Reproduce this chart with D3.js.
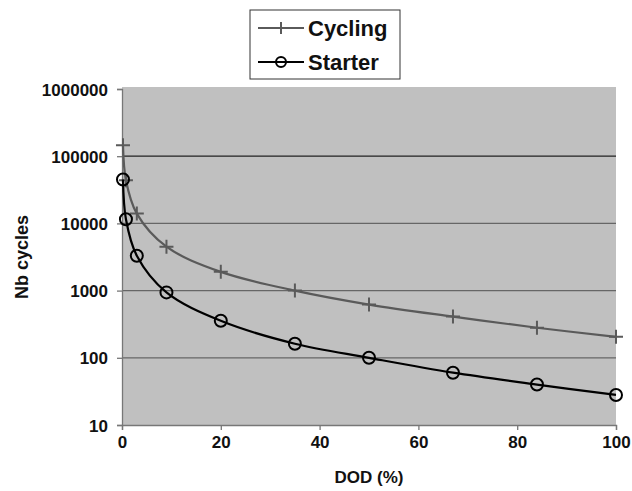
<!DOCTYPE html>
<html>
<head>
<meta charset="utf-8">
<script src="https://cdn.jsdelivr.net/npm/d3@7"></script>
<style>
  body { margin: 0; background: #fff; }
  text { font-family: "Liberation Sans", Arial, sans-serif; font-weight: bold; }
</style>
</head>
<body>
<svg></svg>
<script>
// values
const dod = [0.2, 0.8, 3, 9, 20, 35, 50, 67, 84, 100];
const cycling = [145000, 44000, 14000, 4500, 1900, 1000, 620, 410, 280, 205];
const starter = [45000, 11500, 3300, 940, 355, 162, 100, 60, 40, 28];
const xTicks = [0, 20, 40, 60, 80, 100];
const yTicks = [10, 100, 1000, 10000, 100000, 1000000];

const svg = d3.select("svg").attr("width", 632).attr("height", 491);

const margin = { top: 89, right: 16, bottom: 66, left: 122 };
const width = 632;
const height = 491;

const x = d3.scaleLinear().domain([0, 100]).range([margin.left, width - margin.right]);
const y = d3.scaleLog().domain([10, 1000000]).range([height - margin.bottom, margin.top]);

// plot background
svg.append("rect")
  .attr("x", x(0)).attr("y", y(1000000) - 2)
  .attr("width", x(100) - x(0)).attr("height", y(10) - y(1000000) + 2)
  .attr("fill", "#c0c0c0");

// gridlines
svg.append("g")
  .selectAll("line")
  .data(yTicks.slice(1, -1))
  .join("line")
  .attr("x1", x(0)).attr("x2", x(100))
  .attr("y1", (d) => y(d)).attr("y2", (d) => y(d))
  .attr("stroke", (d) => (d === 100000 ? "#222" : "#666"))
  .attr("stroke-width", 1.3);

// axes
const xAxis = svg.append("g")
  .attr("transform", `translate(0, ${y(10)})`)
  .call(d3.axisBottom(x).tickValues(xTicks).tickSize(5).tickPadding(6).tickFormat(d3.format("d")));

const yAxis = svg.append("g")
  .attr("transform", `translate(${x(0)}, 0)`)
  .call(d3.axisLeft(y).tickValues(yTicks).tickSize(5).tickPadding(9).tickFormat(d3.format("d")));

[xAxis, yAxis].forEach((g) => {
  g.select(".domain").attr("stroke", "#777").attr("stroke-width", 1.3);
  g.selectAll(".tick line").attr("stroke", "#777").attr("stroke-width", 1.3);
  g.selectAll(".tick text")
    .attr("font-size", "17px")
    .attr("font-family", "Liberation Sans, Arial, sans-serif")
    .attr("font-weight", "bold")
    .attr("fill", "#111");
});
yAxis.selectAll(".tick text").attr("dy", "0.36em");

// axis titles
svg.append("text")
  .attr("x", (x(0) + x(100)) / 2)
  .attr("y", 483)
  .attr("text-anchor", "middle")
  .attr("font-size", "17px")
  .attr("fill", "#111")
  .text("DOD (%)");

svg.append("text")
  .attr("transform", `translate(28, ${(y(10) + y(1000000)) / 2}) rotate(-90)`)
  .attr("text-anchor", "middle")
  .attr("font-size", "18px")
  .attr("fill", "#111")
  .text("Nb cycles");

// series
const series = [
  { name: "Cycling", values: cycling, color: "#5a5a5a", marker: "plus" },
  { name: "Starter", values: starter, color: "#000", marker: "circle" },
];

const line = d3.line()
  .x((d) => x(d[0]))
  .y((d) => y(d[1]))
  .curve(d3.curveCatmullRom.alpha(0.5));

function drawMarker(g, type, color, size = 7) {
  if (type === "plus") {
    g.append("path")
      .attr("d", `M-${size},0H${size}M0,-${size}V${size}`)
      .attr("stroke", color)
      .attr("stroke-width", 2)
      .attr("fill", "none");
  } else {
    g.append("circle")
      .attr("r", size - 1)
      .attr("stroke", color)
      .attr("stroke-width", 2)
      .attr("fill", "none");
  }
}

series.forEach((s) => {
  const pts = dod.map((d, i) => [d, s.values[i]]);
  svg.append("path")
    .datum(pts)
    .attr("d", line)
    .attr("fill", "none")
    .attr("stroke", s.color)
    .attr("stroke-width", 2.2);

  svg.append("g")
    .selectAll("g")
    .data(pts)
    .join("g")
    .attr("transform", (d) => `translate(${x(d[0])}, ${y(d[1])})`)
    .each(function () {
      drawMarker(d3.select(this), s.marker, s.color);
    });
});

// legend
const legend = svg.append("g").attr("transform", "translate(250, 10)");
legend.append("rect")
  .attr("width", 150).attr("height", 69)
  .attr("fill", "#fff").attr("stroke", "#333").attr("stroke-width", 1);

legend.selectAll(".legend-item")
  .data(series)
  .join("g")
  .attr("class", "legend-item")
  .attr("transform", (d, i) => `translate(0, ${18 + i * 34})`)
  .each(function (d) {
    const g = d3.select(this);
    g.append("line")
      .attr("x1", 8).attr("x2", 54)
      .attr("stroke", d.color).attr("stroke-width", 2);
    const m = g.append("g").attr("transform", "translate(31, 0)");
    drawMarker(m, d.marker, d.color, 6);
    g.append("text")
      .attr("x", 58).attr("y", 8)
      .attr("font-size", "22px")
      .attr("fill", "#111")
      .text(d.name);
  });
</script>
</body>
</html>
